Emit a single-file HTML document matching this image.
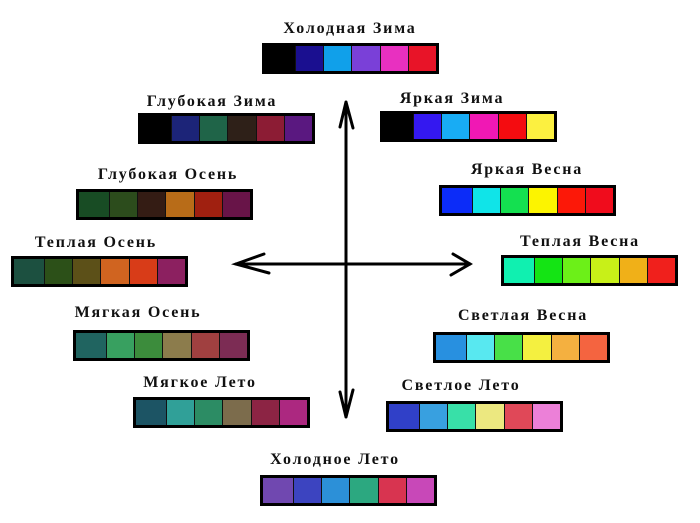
<!DOCTYPE html>
<html><head><meta charset="utf-8"><style>
html,body{margin:0;padding:0;background:#fff;}
body{width:700px;height:523px;position:relative;overflow:hidden;font-family:"Liberation Serif","DejaVu Serif",serif;}
.l{position:absolute;font-weight:bold;font-size:16px;letter-spacing:1.8px;color:#111;transform:translateX(-50%);white-space:nowrap;line-height:16px;}
.b{position:absolute;width:171px;height:25px;border:3px solid #000;background:#111;display:flex;gap:1px;}
.b i{flex:1;display:block;}
.b i:first-child{flex:1.1}
</style></head><body>
<svg width="700" height="523" style="position:absolute;left:0;top:0" fill="none" stroke="#000" stroke-width="3" stroke-linecap="round">
<line x1="346" y1="102" x2="346" y2="417"/>
<line x1="236" y1="264" x2="470" y2="264"/>
<polyline points="340,127 346,102 353,128"/>
<polyline points="340,392 346,417 353,390"/>
<polyline points="264,254 236,264 269,273"/>
<polyline points="453,254 470,264 451,275"/>
</svg>

<div class="l" style="left:350px;top:21px">Холодная Зима</div>
<div class="b" style="left:262px;top:43px"><i style="background:#000"></i><i style="background:#1a0f90"></i><i style="background:#10a0ea"></i><i style="background:#7a40d8"></i><i style="background:#e830c0"></i><i style="background:#e81428"></i></div>

<div class="l" style="left:212px;top:94px">Глубокая Зима</div>
<div class="b" style="left:138px;top:113px"><i style="background:#000"></i><i style="background:#1c2478"></i><i style="background:#1f6448"></i><i style="background:#2e2018"></i><i style="background:#8c1c34"></i><i style="background:#5a1880"></i></div>

<div class="l" style="left:168px;top:167px">Глубокая Осень</div>
<div class="b" style="left:76px;top:189px"><i style="background:#184c24"></i><i style="background:#2c4c1c"></i><i style="background:#341c14"></i><i style="background:#b86c18"></i><i style="background:#a02010"></i><i style="background:#681448"></i></div>

<div class="l" style="left:96px;top:235px">Теплая Осень</div>
<div class="b" style="left:11px;top:256px"><i style="background:#1c5040"></i><i style="background:#2c5018"></i><i style="background:#5c5018"></i><i style="background:#d06420"></i><i style="background:#d83c18"></i><i style="background:#8c2060"></i></div>

<div class="l" style="left:138px;top:305px">Мягкая Осень</div>
<div class="b" style="left:73px;top:330px"><i style="background:#206460"></i><i style="background:#38a060"></i><i style="background:#3c8c3c"></i><i style="background:#8c7c4c"></i><i style="background:#a04040"></i><i style="background:#7c2c54"></i></div>

<div class="l" style="left:200px;top:375px">Мягкое Лето</div>
<div class="b" style="left:133px;top:397px"><i style="background:#1c5464"></i><i style="background:#30a098"></i><i style="background:#2c8c64"></i><i style="background:#7c6c4c"></i><i style="background:#8c2444"></i><i style="background:#ac2880"></i></div>

<div class="l" style="left:335px;top:452px">Холодное Лето</div>
<div class="b" style="left:260px;top:475px"><i style="background:#7048b0"></i><i style="background:#3c44c0"></i><i style="background:#2c90d8"></i><i style="background:#2ca880"></i><i style="background:#d83450"></i><i style="background:#c848b8"></i></div>

<div class="l" style="left:452px;top:91px">Яркая Зима</div>
<div class="b" style="left:380px;top:111px"><i style="background:#000"></i><i style="background:#3418f0"></i><i style="background:#18acf4"></i><i style="background:#f018b4"></i><i style="background:#f40c10"></i><i style="background:#fcf040"></i></div>

<div class="l" style="left:527px;top:162px">Яркая Весна</div>
<div class="b" style="left:439px;top:185px"><i style="background:#0c2cf8"></i><i style="background:#10e4e8"></i><i style="background:#14e050"></i><i style="background:#fcf400"></i><i style="background:#fc1808"></i><i style="background:#f00c1c"></i></div>

<div class="l" style="left:580px;top:234px">Теплая Весна</div>
<div class="b" style="left:501px;top:255px"><i style="background:#10f0b0"></i><i style="background:#14e414"></i><i style="background:#6cf018"></i><i style="background:#c8f018"></i><i style="background:#f0b018"></i><i style="background:#f0201c"></i></div>

<div class="l" style="left:523px;top:308px">Светлая Весна</div>
<div class="b" style="left:433px;top:332px"><i style="background:#2890e0"></i><i style="background:#58e8f0"></i><i style="background:#48e048"></i><i style="background:#f4f040"></i><i style="background:#f4b040"></i><i style="background:#f46440"></i></div>

<div class="l" style="left:461px;top:378px">Светлое Лето</div>
<div class="b" style="left:386px;top:401px"><i style="background:#3040c8"></i><i style="background:#38a0e0"></i><i style="background:#38e0a8"></i><i style="background:#ece880"></i><i style="background:#e04858"></i><i style="background:#ec80d8"></i></div>
</body></html>
